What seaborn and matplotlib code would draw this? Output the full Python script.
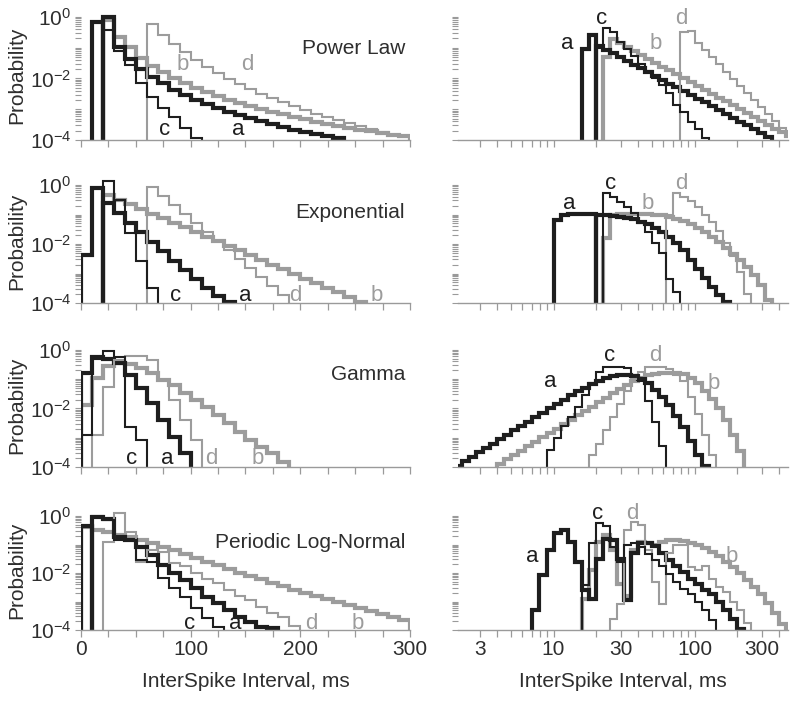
import numpy as np
import matplotlib
matplotlib.use("Agg")
import matplotlib.pyplot as plt
from matplotlib.ticker import FixedLocator, NullFormatter, FixedFormatter
import seaborn as sns

sns.set_theme(style="white")
plt.rcParams["font.family"] = ["Liberation Sans", "DejaVu Sans"]
plt.rcParams["mathtext.fontset"] = "custom"
plt.rcParams["mathtext.rm"] = "Liberation Sans"
plt.rcParams["mathtext.it"] = "Liberation Sans:italic"
plt.rcParams["axes.unicode_minus"] = False

# histogram layout: 10 ms bins on the linear panels, 20 bins per decade on the log panels
LIN_BIN_MS = 10
LOG_BINS_PER_DECADE = 20

# each curve: list of (first bin, log10 probabilities) segments
# linear panels: first bin given in ms; log panels: first bin as index on the 20/decade grid
power_lin = {
    "a": [(10, [-0.16]),
          (20, [0.0, -0.97, -1.36, -1.68, -1.94, -2.16, -2.36, -2.53, -2.69, -2.83, -2.96,
                -3.08, -3.19, -3.30, -3.39, -3.49, -3.57, -3.66, -3.73, -3.81, -3.88, -3.95])],
    "b": [(20, [-0.1, -0.64, -0.97, -1.33, -1.58, -1.80, -1.99, -2.16, -2.31, -2.45, -2.57,
                -2.69, -2.80, -2.90, -3.00, -3.09, -3.17, -3.25, -3.33, -3.40, -3.47, -3.53,
                -3.60, -3.66, -3.72, -3.77, -3.83, -3.88])],
    "c": [(20, [-0.42, -1.1, -1.55, -2.15, -2.6, -2.95, -3.25, -3.6, -3.95])],
    "d": [(60, [-0.23, -0.58, -0.88, -1.15, -1.40, -1.62, -1.82, -2.01, -2.18, -2.34, -2.50,
                -2.64, -2.77, -2.90, -3.02, -3.14, -3.25, -3.36, -3.46, -3.55, -3.65, -3.74,
                -3.83, -3.91])],
}
power_log = {
    "a": [(24, [-1.05, -0.58]),
          (26, [-0.94, -1.06, -1.18, -1.31, -1.43, -1.55, -1.67, -1.80, -1.92, -2.04, -2.17,
                -2.29, -2.41, -2.54, -2.66, -2.78, -2.90, -3.03, -3.15, -3.27, -3.40, -3.52,
                -3.64, -3.77, -3.89])],
    "b": [(27, [-1.29, -0.72, -0.85, -0.97, -1.10, -1.23, -1.35, -1.48, -1.61, -1.73, -1.86,
                -1.99, -2.11, -2.24, -2.36, -2.49, -2.62, -2.74, -2.87, -3.00, -3.12, -3.25,
                -3.38, -3.50, -3.63, -3.75, -3.88])],
    "c": [(26, [-1.0, -0.36, -0.5, -0.80, -1.05, -1.28, -1.52, -1.74, -1.97, -2.22, -2.47,
                -2.85, -3.10, -3.40, -3.65, -3.92])],
    "d": [(38, [-0.48, -0.46, -0.85, -1.08, -1.31, -1.54, -1.78, -2.01, -2.24, -2.47, -2.70,
                -2.93, -3.16, -3.39, -3.62, -3.85])],
}
expo_lin = {
    "a": [(0, [-2.37, -0.09]),
          (20, [-0.62, -0.95, -1.28, -1.6, -1.92, -2.24, -2.56, -2.88, -3.2, -3.5, -3.75, -3.97])],
    "b": [(20, [-0.34, -0.50, -0.65, -0.81, -0.97, -1.13, -1.28, -1.44, -1.60, -1.75, -1.91,
                -2.07, -2.22, -2.38, -2.54, -2.70, -2.85, -3.01, -3.17, -3.32, -3.48, -3.64,
                -3.79, -3.95])],
    "c": [(20, [0.15, -0.51, -1.64, -2.58, -3.5])],
    "d": [(60, [-0.06, -0.37, -0.67, -0.98, -1.28, -1.59, -1.90, -2.20, -2.51, -2.81, -3.12,
                -3.42, -3.73])],
}
expo_log = {
    "a": [(20, [-1.19, -1.02, -0.99, -0.98, -0.98, -0.99]),
          (26, [-1.0, -1.02, -1.04, -1.07, -1.11, -1.16, -1.24, -1.33, -1.45, -1.60, -1.77,
                -1.98, -2.22, -2.55, -2.85, -3.15, -3.45, -3.72, -3.96])],
    "b": [(27, [-1.81, -1.02, -0.99, -0.98, -0.97, -0.97, -0.98, -1.0, -1.03, -1.08, -1.15,
                -1.23, -1.33, -1.47, -1.60, -1.75, -1.92, -2.12, -2.35, -2.55, -2.78, -3.05,
                -3.38, -3.90])],
    "c": [(27, [-0.28, -0.42, -0.58, -0.75, -0.95, -1.3, -1.6, -1.95, -2.3, -3.2, -3.62])],
    "d": [(36, [-1.0, -0.28, -0.4, -0.55, -0.75, -1.0, -1.25, -1.55, -1.95, -2.4, -2.95, -3.7])],
}
gamma_lin = {
    "a": [(0, [-0.8, -0.25, -0.3, -0.45, -0.86, -1.31, -1.83, -2.4, -2.97, -3.53])],
    "b": [(0, [-1.88, -0.97, -0.55, -0.46, -0.5, -0.63, -0.80, -1.03, -1.20, -1.48, -1.71,
               -1.94, -2.23, -2.51, -2.80, -3.08, -3.31, -3.53, -3.82])],
    "c": [(0, [-2.9, -0.3, -0.05, -0.25, -2.62, -3.08])],
    "d": [(10, [-2.91, -1.26, -0.35, -0.2, -0.22, -0.35, -1.03, -1.71, -2.4, -3.08])],
}
gamma_log = {
    "a": [(6, [-3.95, -3.80, -3.65, -3.50, -3.35, -3.20, -3.05, -2.90, -2.75, -2.60, -2.45,
               -2.30, -2.15, -2.00, -1.85, -1.70, -1.55, -1.42, -1.29, -1.17, -1.06, -0.97,
               -0.90, -0.86, -0.85, -0.88, -0.98, -1.15, -1.38, -1.62, -1.90, -2.25, -2.65,
               -3.10, -3.60, -3.95])],
    "b": [(12, [-3.89, -3.74, -3.59, -3.44, -3.29, -3.14, -2.99, -2.84, -2.69, -2.54, -2.39,
                -2.24, -2.09, -1.94, -1.79, -1.64, -1.49, -1.34, -1.19, -1.06, -0.95, -0.87,
                -0.82, -0.80, -0.79, -0.80, -0.83, -0.95, -1.15, -1.4, -1.68, -2.0, -2.4,
                -2.9, -3.45])],
    "c": [(19, [-3.42, -3.0, -2.6, -2.3, -1.95, -1.55, -1.15, -0.75, -0.6, -0.58, -0.58,
                -0.62, -0.85, -1.05, -1.75, -2.45, -3.3])],
    "d": [(25, [-3.6, -3.2, -2.75, -2.3, -1.85, -1.4, -1.0, -0.75, -0.58, -0.58, -0.58,
                -0.65, -0.85, -1.05, -1.6, -2.2, -2.9, -3.6])],
}
period_lin = {
    "a": [(0, [-0.35]),
          (10, [-0.05, -0.1, -0.73, -0.84, -1.08, -1.37, -1.72, -2.01, -2.25, -2.54, -2.83,
                -3.06, -3.30, -3.53, -3.71, -3.88, -3.93])],
    "b": [(0, [-0.4, -0.5, -0.55, -0.67, -0.72, -0.84, -0.95, -1.08, -1.2, -1.33, -1.46, -1.6,
               -1.73, -1.86, -1.99, -2.1, -2.22, -2.34, -2.46, -2.58, -2.7, -2.81, -2.92,
               -3.02, -3.12, -3.22, -3.32, -3.43, -3.54, -3.65])],
    "c": [(10, [0.0, -0.15, -0.85, -0.85, -1.53, -1.6, -2.19, -2.54, -2.83, -3.24, -3.59, -3.88])],
    "d": [(20, [-0.9, 0.12, -0.55, -1.6, -1.2, -1.25, -1.65, -1.75, -2.0, -2.2, -2.35, -2.6,
                -2.8, -2.95, -3.2, -3.4, -3.55, -3.85])],
}
period_log = {
    "a": [(17, [-3.3, -2.07, -1.19, -0.6, -0.5, -0.9, -1.6, -2.6, -2.9, -1.5, -0.8, -0.85,
                -1.5, -2.95, -1.3, -0.95, -0.95, -1.05, -1.3, -1.55, -1.75, -1.95, -2.2,
                -2.4, -2.6, -2.75, -3.0, -3.3, -3.6, -3.95])],
    "b": [(24, [-2.9, -1.9, -0.9, -0.65, -1.2, -2.4, -2.8, -1.2, -0.9, -0.95, -1.0, -0.9,
                -0.85, -0.85, -0.88, -0.95, -1.02, -1.12, -1.25, -1.4, -1.6, -1.8, -2.0,
                -2.25, -2.5, -2.75, -3.05, -3.4, -3.8])],
    "c": [(24, [-2.42, -0.95, -0.25, -0.35, -1.1, -1.6, -1.0, -0.95, -1.1, -1.35, -1.55,
                -1.75, -2.05, -2.3, -2.55, -2.75, -3.0, -3.3, -3.65])],
    "d": [(28, [-3.6, -3.1, -0.5, -0.2, -0.3, -1.2, -2.3, -3.1, -1.3, -1.0, -1.0, -1.8,
                -1.9, -1.75, -2.2, -2.5, -2.65, -3.0, -3.3, -3.75])],
}

model_names = ["Power Law", "Exponential", "Gamma", "Periodic Log-Normal"]

# curve letter positions (ms, log10 probability)
label_pos_lin = [
    {"a": (143, -3.67), "b": (93, -1.56), "c": (76, -3.67), "d": (152, -1.56)},
    {"a": (150, -3.73), "b": (270, -3.73), "c": (86, -3.73), "d": (195, -3.73)},
    {"a": (79, -3.7), "b": (161, -3.7), "c": (46, -3.7), "d": (119, -3.7)},
    {"a": (141, -3.77), "b": (252, -3.77), "c": (99, -3.77), "d": (210, -3.77)},
]
label_pos_log = [
    {"a": (12.5, -0.86), "b": (53, -0.86), "c": (22, -0.04), "d": (80.5, -0.04)},
    {"a": (13, -0.62), "b": (46.7, -0.62), "c": (25.3, 0.06), "d": (80.5, 0.06)},
    {"a": (9.5, -1.09), "b": (137, -1.14), "c": (25, -0.18), "d": (52.8, -0.18)},
    {"a": (7.06, -1.43), "b": (185, -1.43), "c": (20.4, 0.09), "d": (36, 0.09)},
]

BLACK = "#1e1e1e"
GRAY = "#9c9c9c"
TEXT = "#2e2e2e"
AXIS = "#9a9a9a"
style = {"a": (BLACK, 3.0), "b": (GRAY, 3.0), "c": (BLACK, 1.5), "d": (GRAY, 1.5)}
FLOOR = 1e-5


def lin_edges(start, n):
    return start + LIN_BIN_MS * np.arange(n + 1)


def log_edges(start, n):
    return 10.0 ** ((start + np.arange(n + 1)) / LOG_BINS_PER_DECADE)


def draw_curves(ax, curves, edges_fn):
    for key in ["b", "a", "d", "c"]:
        color, lw = style[key]
        for start, vals in curves[key]:
            e = edges_fn(start, len(vals))
            p = 10.0 ** np.asarray(vals)
            xs = np.concatenate([[e[0]], e[:-1], [e[-1], e[-1]]])
            ys = np.concatenate([[FLOOR], p, [p[-1], FLOOR]])
            sns.lineplot(x=xs, y=ys, ax=ax, color=color, linewidth=lw, estimator=None,
                         sort=False, drawstyle="steps-post", solid_joinstyle="miter")


def draw_letters(ax, pos):
    for key, (x, lp) in pos.items():
        ax.text(x, 10.0 ** lp, key, color=style[key][0], fontsize=16,
                ha="center", va="center")


fig = plt.figure(figsize=(8.0, 7.02), dpi=100)

# rows: bottom pixel of each panel and pixels per decade
row_bottom = [140, 303, 467, 630]
row_decade = [30.75, 29.5, 29.3, 28.5]
YTOP = 10 ** 0.2

lin_sets = [power_lin, expo_lin, gamma_lin, period_lin]
log_sets = [power_log, expo_log, gamma_log, period_log]

y_major = [1e-4, 1e-2, 1e0]
y_minor = [m * 10.0 ** e for e in range(-4, 1) for m in range(1, 10) if m * 10.0 ** e <= YTOP]

for r in range(4):
    h = 4.2 * row_decade[r]
    bottom = (702 - row_bottom[r]) / 702
    height = h / 702
    ax_l = fig.add_axes([81 / 800, bottom, 329 / 800, height])
    ax_r = fig.add_axes([458 / 800, bottom, 330 / 800, height])

    for ax in (ax_l, ax_r):
        ax.set_yscale("log")
        ax.set_ylim(1e-4, YTOP)
        ax.set_facecolor("none")
        for s in ("left", "right", "top"):
            ax.spines[s].set_visible(False)
        ax.spines["bottom"].set_color(AXIS)
        ax.spines["bottom"].set_linewidth(1.0)
        ax.yaxis.set_major_locator(FixedLocator(y_major))
        ax.yaxis.set_minor_locator(FixedLocator(y_minor))
        ax.yaxis.set_minor_formatter(NullFormatter())
        ax.tick_params(axis="y", which="both", direction="out", length=4, width=0.8,
                       color=AXIS, left=True, labelsize=15, labelcolor=TEXT, pad=3)
        ax.tick_params(axis="x", which="both", direction="out", length=5, width=0.9,
                       color=AXIS, bottom=True, labelsize=15, labelcolor=TEXT, pad=2)

    ax_r.set_xscale("log")
    draw_curves(ax_l, lin_sets[r], lin_edges)
    draw_curves(ax_r, log_sets[r], log_edges)
    ax_l.set_xlim(0, 300)
    ax_r.set_xlim(2.1, 460)
    ax_l.set_ylim(1e-4, YTOP)
    ax_r.set_ylim(1e-4, YTOP)

    ax_l.xaxis.set_major_locator(FixedLocator([0, 100, 200, 300]))
    ax_l.xaxis.set_minor_locator(FixedLocator([25, 50, 75, 125, 150, 175, 225, 250, 275]))
    ax_r.xaxis.set_major_locator(FixedLocator([3, 10, 30, 100, 300]))
    ax_r.xaxis.set_minor_locator(FixedLocator([2, 4, 5, 6, 7, 8, 9, 20, 40, 50, 60, 70, 80,
                                               90, 200, 400]))
    ax_r.xaxis.set_minor_formatter(NullFormatter())
    ax_l.xaxis.set_minor_formatter(NullFormatter())

    ax_r.yaxis.set_major_formatter(NullFormatter())
    ax_l.set_ylabel("Probability", fontsize=15, color=TEXT)
    ax_l.yaxis.set_label_coords(-0.165, 0.5)

    if r < 3:
        ax_l.xaxis.set_major_formatter(NullFormatter())
        ax_r.xaxis.set_major_formatter(NullFormatter())
    else:
        ax_l.xaxis.set_major_formatter(FixedFormatter(["0", "100", "200", "300"]))
        ax_r.xaxis.set_major_formatter(FixedFormatter(["3", "10", "30", "100", "300"]))
        for ax in (ax_l, ax_r):
            ax.set_xlabel("InterSpike Interval, ms", fontsize=15, color=TEXT)
            ax.xaxis.set_label_coords(0.5, -0.35)

    title_y = (row_bottom[r] - [48, 213, 375, 542][r]) / h
    ax_l.text(0.985, title_y, model_names[r], transform=ax_l.transAxes, ha="right",
              va="center", fontsize=15, color=TEXT)

    draw_letters(ax_l, label_pos_lin[r])
    draw_letters(ax_r, label_pos_log[r])

fig.savefig("out.png", dpi=100, facecolor="white")
